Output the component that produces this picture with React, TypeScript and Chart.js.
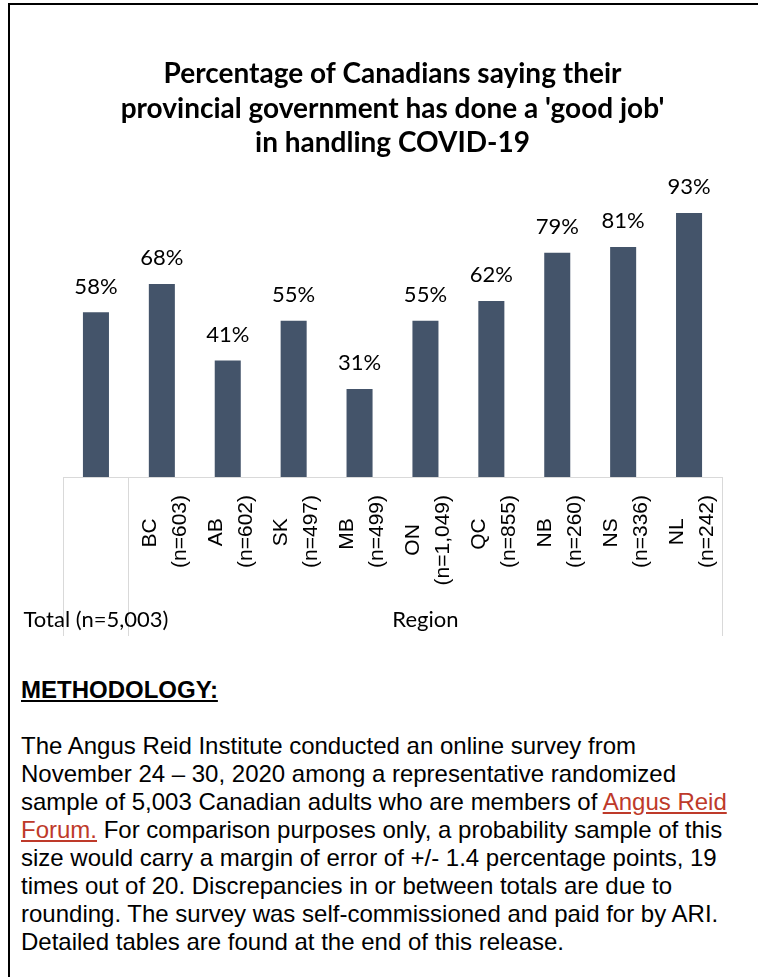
import React, { useEffect, useRef } from "react";
import { Chart, registerables } from "chart.js";

Chart.register(...registerables);

// ---- data ----
const titleLines = [
  "Percentage of Canadians saying their",
  "provincial government has done a 'good job'",
  "in handling COVID-19",
];
const provinceCodes = ["", "BC", "AB", "SK", "MB", "ON", "QC", "NB", "NS", "NL"];
const sampleLabels = ["", "(n=603)", "(n=602)", "(n=497)", "(n=499)", "(n=1,049)", "(n=855)", "(n=260)", "(n=336)", "(n=242)"];
const goodJobPct = [58, 68, 41, 55, 31, 55, 62, 79, 81, 93];
const groupNames = ["Total (n=5,003)", "Region"];
const groupSizes = [1, 9];

const BAR_COLOR = "#44546A";
const GRID_COLOR = "#D9D9D9";
const TICK_FONT = '"Liberation Sans", Arial, sans-serif';
const CHART_FONT = 'Lato, "Open Sans", sans-serif';

function buildLabels(): (string | string[])[] {
  const c = document.createElement("canvas").getContext("2d")!;
  c.font = `21px ${TICK_FONT}`;
  const w = (s: string) => c.measureText(s).width;
  return provinceCodes.map((code, i) => {
    if (!code) return "";
    const long = sampleLabels[i];
    const diff = (w(long) - w(code)) / 2;
    const n = Math.max(0, Math.round(diff / w(" ")));
    return [code + " ".repeat(n), long];
  });
}

// second-level labels: each group name placed at the centre category of its group
function buildGroupLabels(): string[] {
  const total = groupSizes.reduce((a, b) => a + b, 0);
  const out: string[] = new Array(total).fill("");
  let start = 0;
  groupSizes.forEach((s, g) => {
    out[start + Math.floor((s - 1) / 2)] = groupNames[g];
    start += s;
  });
  return out;
}

const valueLabels = {
  id: "valueLabels",
  afterDatasetsDraw(chart: any) {
    const { ctx } = chart;
    const meta = chart.getDatasetMeta(0);
    ctx.save();
    ctx.font = `22px ${CHART_FONT}`;
    ctx.fillStyle = "#000";
    ctx.textAlign = "center";
    ctx.textBaseline = "alphabetic";
    meta.data.forEach((el: any, i: number) => {
      ctx.fillText(`${goodJobPct[i]}%`, el.x, el.y - 18.5);
    });
    ctx.restore();
  },
};

function ChartCanvas() {
  const ref = useRef<HTMLCanvasElement>(null);
  useEffect(() => {
    if (!ref.current) return;
    const labels = buildLabels();
    const groupLabels = buildGroupLabels();
    const boundaryColor = (ctx: any) =>
      ctx.type === "scale" || ctx.index === 0 || ctx.index === 1 ? GRID_COLOR : "rgba(0,0,0,0)";
    const chart = new Chart(ref.current, {
      type: "bar",
      data: {
        labels,
        datasets: [
          {
            data: goodJobPct,
            backgroundColor: BAR_COLOR,
            borderWidth: 0,
            barPercentage: 0.395,
            categoryPercentage: 1,
          },
        ],
      },
      options: {
        responsive: false,
        animation: false,
        events: [],
        layout: { padding: { left: 53, right: 36, top: 0, bottom: 18 } },
        plugins: {
          legend: { display: false },
          tooltip: { enabled: false },
          title: {
            display: true,
            text: titleLines,
            color: "#000",
            font: { family: CHART_FONT, size: 28, weight: "bold", lineHeight: 34.5 / 28 },
            padding: { top: 52, bottom: 32.5 },
          },
        },
        scales: {
          x: {
            type: "category",
            position: "bottom",
            offset: true,
            grid: {
              offset: true,
              drawOnChartArea: false,
              drawTicks: true,
              tickLength: 159,
              color: boundaryColor,
              tickColor: boundaryColor,
              lineWidth: 1,
            },
            border: { display: true, color: GRID_COLOR, width: 1 },
            ticks: {
              autoSkip: false,
              minRotation: 90,
              maxRotation: 90,
              padding: -141,
              labelOffset: -12,
              color: "#000",
              font: { family: TICK_FONT, size: 21, lineHeight: 30 / 21 },
            },
            afterFit: (scale: any) => {
              scale.height = 130;
            },
          },
          x2: {
            type: "category",
            position: "bottom",
            labels: groupLabels,
            offset: true,
            grid: { display: false, drawTicks: false },
            border: { display: false },
            ticks: {
              autoSkip: false,
              minRotation: 0,
              maxRotation: 0,
              padding: 0,
              color: "#000",
              font: { family: CHART_FONT, size: 22, lineHeight: 1.2 },
            },
            afterFit: (scale: any) => {
              scale.height = 30;
            },
          },
          y: {
            display: false,
            min: 0,
            max: 100,
          },
        },
      },
      plugins: [valueLabels],
    } as any);
    return () => chart.destroy();
  }, []);
  return (
    <canvas
      ref={ref}
      width={748}
      height={650}
      style={{ position: "absolute", left: 10, top: 5, width: 748, height: 650 }}
    />
  );
}

const linkStyle: React.CSSProperties = { color: "#BE3A2A", textDecoration: "underline" };

export default function App() {
  return (
    <div
      style={{
        position: "absolute",
        left: 0,
        top: 0,
        width: 758,
        height: 977,
        background: "#fff",
        overflow: "hidden",
      }}
    >
      <div
        style={{
          position: "absolute",
          left: 8,
          top: 3,
          right: 0,
          bottom: 0,
          borderLeft: "2px solid #000",
          borderTop: "2px solid #000",
        }}
      />
      <ChartCanvas />
      <div
        style={{
          position: "absolute",
          left: 21,
          top: 676,
          fontFamily: TICK_FONT,
          fontSize: 24,
          lineHeight: "28px",
          color: "#000",
          whiteSpace: "nowrap",
        }}
      >
        <div style={{ fontWeight: "bold", textDecoration: "underline" }}>METHODOLOGY:</div>
        <div style={{ height: 28 }} />
        <div>The Angus Reid Institute conducted an online survey from</div>
        <div>November 24 – 30, 2020 among a representative randomized</div>
        <div>
          sample of 5,003 Canadian adults who are members of <span style={linkStyle}>Angus Reid</span>
        </div>
        <div>
          <span style={linkStyle}>Forum.</span> For comparison purposes only, a probability sample of this
        </div>
        <div>size would carry a margin of error of +/- 1.4 percentage points, 19</div>
        <div>times out of 20. Discrepancies in or between totals are due to</div>
        <div>rounding. The survey was self-commissioned and paid for by ARI.</div>
        <div>Detailed tables are found at the end of this release.</div>
      </div>
    </div>
  );
}
